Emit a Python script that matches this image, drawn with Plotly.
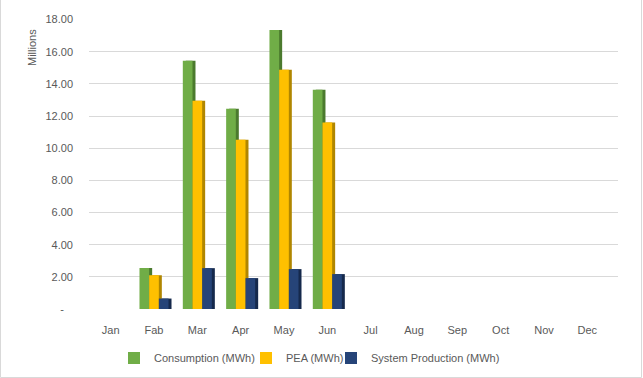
import plotly.graph_objects as go

months = ["Jan", "Fab", "Mar", "Apr", "May", "Jun", "Jul", "Aug", "Sep", "Oct", "Nov", "Dec"]
consumption = [0, 2.55, 15.43, 12.45, 17.35, 13.63, 0, 0, 0, 0, 0, 0]
pea = [0, 2.10, 12.95, 10.53, 14.87, 11.59, 0, 0, 0, 0, 0, 0]
system_prod = [0, 0.65, 2.54, 1.92, 2.48, 2.17, 0, 0, 0, 0, 0, 0]

series = [
    ("Consumption (MWh)", consumption, "#70AD47", "#4B7A2E", "legend", 154),
    ("PEA (MWh)", pea, "#FFC000", "#B08600", "legend2", 286),
    ("System Production (MWh)", system_prod, "#264478", "#15294C", "legend3", 371),
]

tickvals = [0, 2, 4, 6, 8, 10, 12, 14, 16, 18]
ticktext = ["-\u00a0\u00a0\u00a0", "2.00", "4.00", "6.00", "8.00", "10.00", "12.00", "14.00", "16.00", "18.00"]

W, H = 643, 378
ML, MR, MT, MB = 89, 25, 10, 66
PW = W - ML - MR
PH = H - MT - MB
cat_px = 43.33
xr = [-0.5, -0.5 + PW / cat_px]
dx = 3 / cat_px
dy = 3 / PH
front_top = (312 - 22.5) / PH

fig = go.Figure()

# shadow (3D side/top faces) on base subplot x/y, shifted right and up
for name, vals, col, dark, lg, tx in series:
    fig.add_trace(go.Bar(x=months, y=vals, name=name, marker=dict(color=dark, line=dict(width=0)),
                         xaxis="x", yaxis="y", showlegend=False, hoverinfo="skip"))

# grid carrier (empty trace)
fig.add_trace(go.Scatter(x=[], y=[], xaxis="x", yaxis="y2", showlegend=False, hoverinfo="skip"))

# front faces
for name, vals, col, dark, lg, tx in series:
    fig.add_trace(go.Bar(x=months, y=vals, name=name, marker=dict(color=col, line=dict(width=0)),
                         xaxis="x2", yaxis="y3", legend=lg))

legend_common = dict(orientation="h", xanchor="left", yanchor="middle",
                     y=(312 - 358) / PH, font=dict(size=11, color="#595959"),
                     itemwidth=30, bgcolor="rgba(0,0,0,0)", borderwidth=0)
legends = {}
for name, vals, col, dark, lg, tx in series:
    legends[lg] = dict(legend_common, x=(tx - 40 - ML) / PW)

fig.update_layout(
    width=W, height=H,
    margin=dict(l=ML, r=MR, t=MT, b=MB, autoexpand=False),
    paper_bgcolor="white", plot_bgcolor="white",
    barmode="group", bargap=0.33, bargroupgap=0,
    font=dict(family="Liberation Sans", size=11, color="#595959"),
    xaxis=dict(type="category", categoryarray=months, range=[xr[0] - dx, xr[1] - dx], domain=[0, 1],
               anchor="y", showgrid=False, zeroline=False, showline=False, ticks="",
               showticklabels=False),
    yaxis=dict(range=[0, 18], domain=[dy, front_top + dy], anchor="x",
               showgrid=False, zeroline=False, showline=False, ticks="", showticklabels=False),
    xaxis2=dict(type="category", categoryarray=months, range=xr, overlaying="x",
                anchor="y3", showgrid=False, zeroline=False, showline=False,
                ticks="", ticklabelstandoff=13, tickfont=dict(size=11, color="#595959")),
    yaxis2=dict(range=[0, 18], domain=[(312 - 308.3) / PH, (312 - 15.7) / PH], anchor="x",
                overlaying="y", showgrid=True, gridcolor="#D9D9D9", gridwidth=1, tickvals=tickvals,
                showticklabels=False, zeroline=False, showline=False, ticks=""),
    yaxis3=dict(range=[0, 18], domain=[0, front_top], overlaying="y", anchor="x2",
                showgrid=False, zeroline=False, showline=False, ticks="",
                tickvals=tickvals, ticktext=ticktext, ticklabelstandoff=15,
                tickfont=dict(size=11, color="#595959")),
    showlegend=True,
    **legends,
)

fig.add_annotation(text="Millions", textangle=-90, xref="paper", yref="paper",
                   x=(32 - ML) / PW, y=(312 - 48) / PH, xanchor="center", yanchor="middle",
                   showarrow=False, font=dict(size=11, color="#595959"))

fig.add_shape(type="rect", xref="paper", yref="paper",
              x0=(0.5 - ML) / PW, x1=(641.5 - ML) / PW,
              y0=(312 - 377.5) / PH, y1=(312 + 2) / PH,
              line=dict(color="#D9D9D9", width=1), layer="below")

fig.write_html("out.html", config={"displayModeBar": False},
               post_script="document.body.style.margin='0';document.body.style.overflow='hidden';")
